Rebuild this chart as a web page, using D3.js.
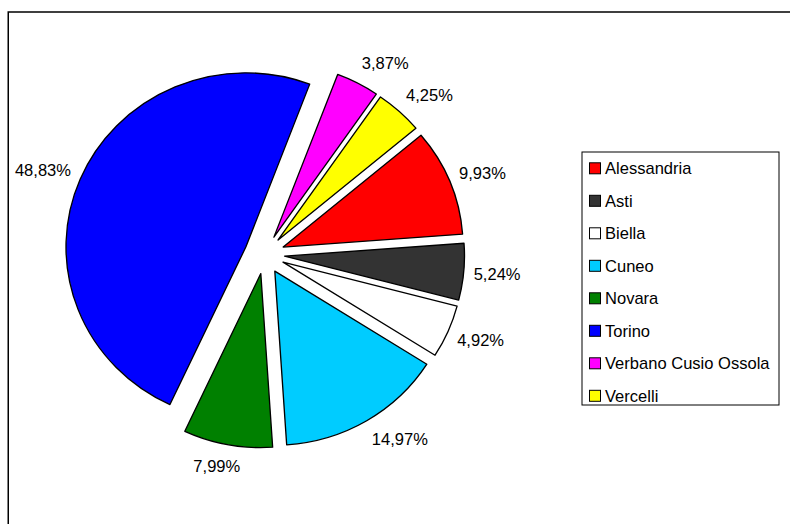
<!DOCTYPE html>
<html>
<head>
<meta charset="utf-8">
<script src="https://cdn.jsdelivr.net/npm/d3@7"></script>
<style>
  html, body { margin: 0; padding: 0; background: #fff; }
  svg { display: block; }
  text { font-family: "Liberation Sans", Arial, Helvetica, sans-serif; fill: #000; }
</style>
</head>
<body>
<svg id="chart" width="790" height="524"></svg>
<script>
const categories = ["Alessandria", "Asti", "Biella", "Cuneo", "Novara", "Torino", "Verbano Cusio Ossola", "Vercelli"];
const values = [9.93, 5.24, 4.92, 14.97, 7.99, 48.83, 3.87, 4.25];
const colors = ["#FF0000", "#333333", "#FFFFFF", "#00CCFF", "#008000", "#0000FF", "#FF00FF", "#FFFF00"];

const W = 790, H = 524;
const stretch = 1.034;          // horizontal stretch of the original picture
const cx = 264.5, cy = 254.4;   // pie centre
const radius = 174;
const explode = 19.5;
const startDeg = 50;

const svg = d3.select("#chart");
svg.append("rect").attr("width", W).attr("height", H).attr("fill", "#fff");

// outer chart frame
svg.append("rect")
  .attr("x", 8.25).attr("y", 12)
  .attr("width", 800).attr("height", 600)
  .attr("fill", "none").attr("stroke", "#000").attr("stroke-width", 1.5);

const locale = d3.formatLocale({decimal: ",", thousands: ".", grouping: [3], currency: ["", "€"]});
const fmt = locale.format(".2f");

const pie = d3.pie().sort(null)
  .startAngle(startDeg * Math.PI / 180)
  .endAngle(startDeg * Math.PI / 180 + 2 * Math.PI)
  .value(d => d);
const arcs = pie(values);
const arc = d3.arc().innerRadius(0).outerRadius(radius);

const g = svg.append("g").attr("transform", `translate(${cx},${cy}) scale(${stretch},1)`);
g.selectAll("path").data(arcs).enter().append("path")
  .attr("d", arc)
  .attr("transform", d => {
    const m = (d.startAngle + d.endAngle) / 2;
    return `translate(${explode * Math.sin(m)},${-explode * Math.cos(m)})`;
  })
  .attr("fill", (d, i) => colors[i])
  .attr("stroke", "#000")
  .attr("stroke-width", 1.3)
  .attr("stroke-linejoin", "round");

// data labels
const labelR = 210;
arcs.forEach((d, i) => {
  const m = (d.startAngle + d.endAngle) / 2;
  const s = Math.sin(m), c = Math.cos(m);
  const t = svg.append("text")
    .attr("font-size", 16)
    .attr("text-anchor", "middle")
    .text(fmt(values[i]) + "%");
  const w = t.node().getComputedTextLength() * stretch;
  const sx = Math.max(-1, Math.min(1, 2.1 * s));
  const lx = cx + labelR * s + (w / 2) * sx;
  const ly = cy - labelR * c - 5.6 * c;
  t.attr("transform", `translate(${lx},${ly + 5.7}) scale(${stretch},1)`);
});

// legend
const lg = svg.append("g");
lg.append("rect")
  .attr("x", 582).attr("y", 152)
  .attr("width", 197).attr("height", 253)
  .attr("fill", "#fff").attr("stroke", "#000").attr("stroke-width", 1);
const rowY0 = 168.3, rowStep = 32.5;
categories.forEach((name, i) => {
  const y = rowY0 + i * rowStep;
  lg.append("rect")
    .attr("x", 589.5).attr("y", y - 5.5)
    .attr("width", 11).attr("height", 11)
    .attr("fill", colors[i]).attr("stroke", "#000").attr("stroke-width", 1);
  lg.append("text")
    .attr("font-size", 16)
    .attr("transform", `translate(605,${y + 5.8}) scale(${stretch},1)`)
    .text(name);
});
</script>
</body>
</html>
